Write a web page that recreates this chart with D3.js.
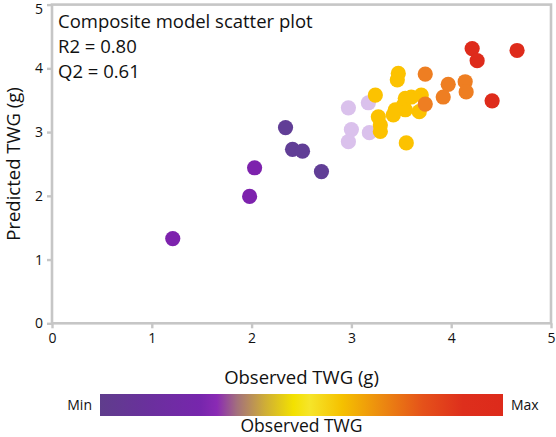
<!DOCTYPE html>
<html><head><meta charset="utf-8">
<script src="https://cdn.jsdelivr.net/npm/d3@7"></script>
<style>
html,body{margin:0;padding:0;background:#fff;}
svg{display:block;font-family:"Open Sans","Noto Sans",sans-serif;}
</style></head>
<body><svg id="chart" width="556" height="437"></svg>
<script>
// ---- data ----
const groups = ["darkPurple","purple","lavender","yellow","orange","red"];
const groupColors = ["#613e96","#7d22ad","#dac1ec","#fcc200","#ee7e22","#de2b1b"];
const observed = [
  2.34,2.41,2.51,2.70,
  1.21,1.98,2.03,
  2.97,3.17,3.00,2.97,3.18,
  3.24,3.47,3.46,3.27,3.29,3.29,3.42,3.44,3.54,3.52,3.54,3.60,3.70,3.68,3.55,
  3.74,3.74,3.97,3.92,4.14,4.15,
  4.21,4.26,4.66,4.41
];
const predicted = [
  3.07,2.73,2.70,2.38,
  1.33,1.99,2.44,
  3.38,3.46,3.04,2.85,2.99,
  3.58,3.92,3.82,3.24,3.11,3.01,3.27,3.35,3.35,3.42,3.53,3.55,3.58,3.32,2.83,
  3.91,3.44,3.75,3.55,3.79,3.63,
  4.31,4.12,4.28,3.49
];
const groupOf = [
  0,0,0,0,
  1,1,1,
  2,2,2,2,2,
  3,3,3,3,3,3,3,3,3,3,3,3,3,3,3,
  4,4,4,4,4,4,
  5,5,5,5
];
const xTicks = [0,1,2,3,4,5];
const yTicks = [0,1,2,3,4,5];
const annotations = ["Composite model scatter plot","R2 = 0.80","Q2 = 0.61"];
const gradientStops = [
  [0.00,"#5f3d8c"],[0.12,"#6a309d"],[0.25,"#7726ad"],[0.29,"#8a2ab4"],
  [0.34,"#a3707c"],[0.41,"#cfae36"],[0.48,"#f3e100"],[0.52,"#f6e52a"],
  [0.60,"#f5c100"],[0.70,"#ec8910"],[0.80,"#e5521a"],[0.90,"#de2f1c"],[1.00,"#dd2a1b"]
];

// ---- layout ----
const svg = d3.select("#chart");
const L = 52, R = 551, T = 4.6, B = 323.3;
const x = d3.scaleLinear().domain([0,5]).range([L,R]);
const y = d3.scaleLinear().domain([0,5]).range([B,T]);
const frameColor = "#c6c6c6";

// frame
svg.append("rect").attr("x",L).attr("y",T).attr("width",R-L).attr("height",B-T)
  .attr("fill","none").attr("stroke",frameColor).attr("stroke-width",2.6);

// axes
const xAxis = svg.append("g").attr("transform",`translate(0,${B})`)
  .call(d3.axisBottom(x).tickValues(xTicks).tickFormat(d3.format("d")).tickSize(5).tickPadding(5));
const yAxis = svg.append("g").attr("transform",`translate(${L},0)`)
  .call(d3.axisLeft(y).tickValues(yTicks).tickFormat(d3.format("d")).tickSize(5).tickPadding(4));
[xAxis,yAxis].forEach(a=>{
  a.select(".domain").remove();
  a.selectAll(".tick line").attr("stroke",frameColor).attr("stroke-width",2.4);
  a.selectAll(".tick text").attr("fill","#111").style("font-size","14px")
   .style("font-family",'"Open Sans","Noto Sans",sans-serif');
});
// keep the topmost y label inside the canvas
yAxis.selectAll(".tick").filter(d=>d===5).select("text").attr("dy","0.62em");

// points
const idx = d3.range(observed.length);
svg.append("g").selectAll("circle").data(idx).join("circle")
  .attr("cx",i=>x(observed[i])).attr("cy",i=>y(predicted[i])).attr("r",7.6)
  .attr("fill",i=>groupColors[groupOf[i]]);

// annotation text
svg.append("g").selectAll("text").data(annotations).join("text")
  .attr("x",58).attr("y",(d,i)=>28+i*25.2)
  .style("font-size","18.5px").attr("fill","#111").text(d=>d);

// axis titles
svg.append("text").attr("x",(L+R)/2).attr("y",384).attr("text-anchor","middle")
  .style("font-size","18.5px").attr("fill","#111").text("Observed TWG (g)");
svg.append("text").attr("transform",`translate(20,${(T+B)/2}) rotate(-90)`)
  .attr("text-anchor","middle").style("font-size","18.5px").attr("fill","#111").text("Predicted TWG (g)");

// colour bar
const defs = svg.append("defs");
const grad = defs.append("linearGradient").attr("id","cbar").attr("x1","0%").attr("x2","100%");
grad.selectAll("stop").data(gradientStops).join("stop")
  .attr("offset",d=>d[0]).attr("stop-color",d=>d[1]);
const cb = d3.scaleLinear().domain([0,1]).range([100,503]);
svg.append("rect").attr("x",cb(0)).attr("y",394).attr("width",cb(1)-cb(0)).attr("height",22)
  .attr("fill","url(#cbar)");
svg.append("text").attr("x",cb(0)-8).attr("y",410).attr("text-anchor","end")
  .style("font-size","14px").attr("fill","#111").text("Min");
svg.append("text").attr("x",cb(1)+8).attr("y",410).attr("text-anchor","start")
  .style("font-size","14px").attr("fill","#111").text("Max");
svg.append("text").attr("x",(cb(0)+cb(1))/2).attr("y",432).attr("text-anchor","middle")
  .style("font-size","17.5px").attr("fill","#111").text("Observed TWG");
</script></body></html>
